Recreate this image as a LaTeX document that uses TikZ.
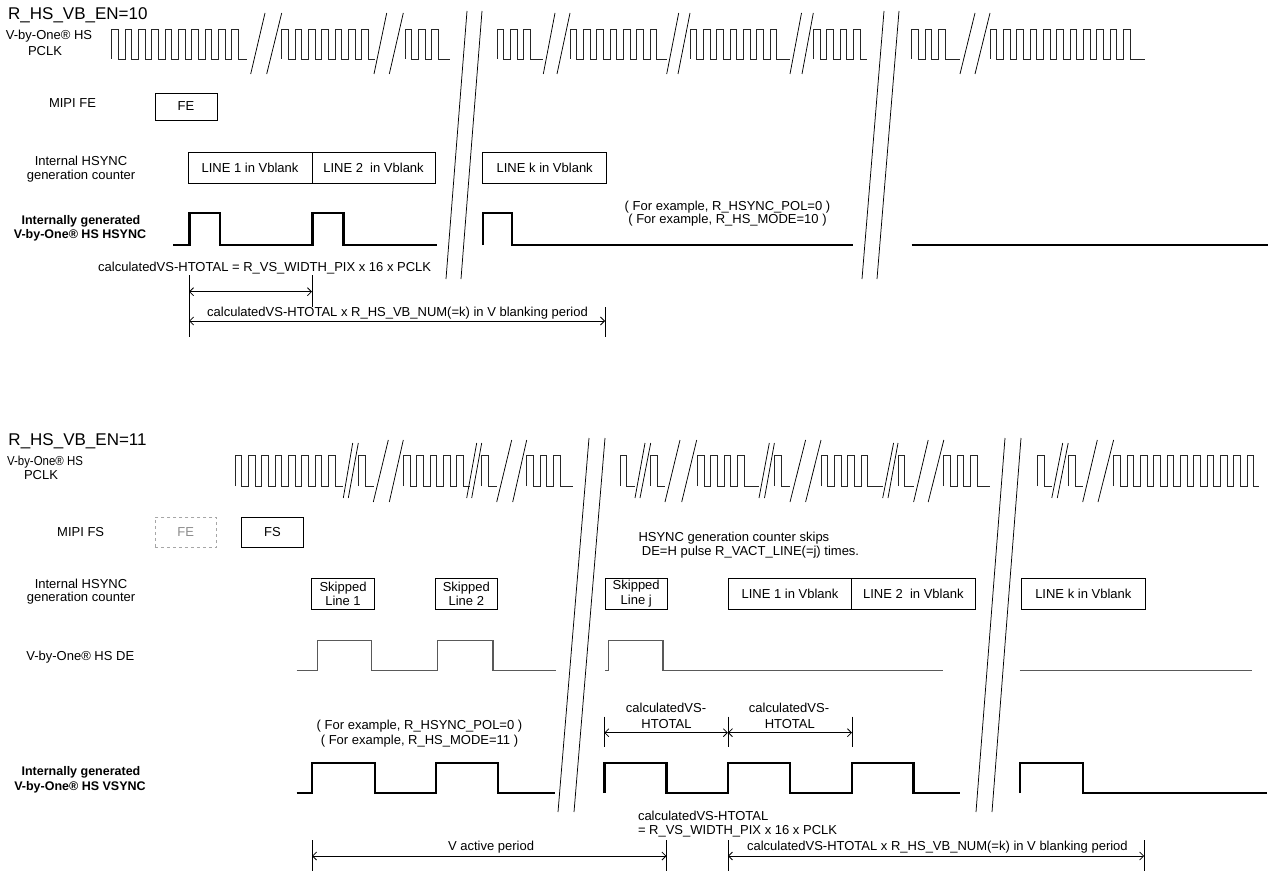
\documentclass[tikz,border=0pt]{standalone}
\usepackage{fontspec}
\setmainfont{Liberation Sans}
\newfontfamily\narrowfam[FakeStretch=0.88]{Liberation Sans}
\usetikzlibrary{arrows.meta}
\newcommand{\lblfont}{\fontsize{13}{14.5}\selectfont}
\newcommand{\boldfont}{\fontsize{12.5}{14}\selectfont\bfseries}
\newcommand{\titlefont}{\fontsize{17}{19}\selectfont}
\def\hp{6.667}
\newcommand{\clkgrp}[5]{\draw[clk] (#1,#4) -- (#1,#5) -- ++(\hp,0) -- ++(0,{#4-#5}) \foreach \k in {2,...,#2}{ -- ++(\hp,0) -- ++(0,{#5-#4}) -- ++(\hp,0) -- ++(0,{#4-#5})} -- (#3,#4);}
\newcommand{\onepulse}[4]{\draw[clk] (#1,#3) -- (#1,#4) -- ++(\hp,0) -- ++(0,{#3-#4}) -- (#2,#3);}
\newcommand{\brkln}[4]{\draw[brk] (#1,#2) -- (#3,#4);}
\begin{document}
\begin{tikzpicture}[x=1pt,y=-1pt,
  clk/.style={line width=0.75pt, black!85, line join=miter},
  brk/.style={line width=0.75pt, black},
  sig/.style={line width=2.4pt, black, line join=miter},
  desig/.style={line width=1.3pt, black!65, line join=miter},
  box/.style={draw, line width=0.8pt, inner sep=0pt, font=\lblfont, align=center},
  lbl/.style={font=\lblfont, inner sep=0pt, anchor=base},
  blbl/.style={font=\boldfont, inner sep=0pt, anchor=base},
  dim/.style={line width=0.8pt, {Straight Barb[length=4pt,width=8pt]}-{Straight Barb[length=4pt,width=8pt]}},
  tick/.style={line width=0.8pt}]
\useasboundingbox (0,0) rectangle (1274,872);

% ================= TOP: R_HS_VB_EN=10 =================
\node[font=\titlefont, inner sep=0pt, anchor=base west] (title1) at (8,20) {R\_HS\_VB\_EN=10};
\node[lbl] (pclk1a) at (49,40) {V-by-One® HS};
\node[lbl] (pclk1b) at (45,56) {PCLK};

% clock groups
\clkgrp{111.7}{10}{246.7}{59}{29}
\clkgrp{281.7}{7}{375}{59}{29}
\clkgrp{405}{3}{450}{59}{29}
\clkgrp{497}{3}{543}{59}{29}
\clkgrp{570}{7}{666.7}{59}{29}
\clkgrp{690}{7}{790}{59}{29}
\clkgrp{813.3}{4}{866.7}{59}{29}
\clkgrp{911.7}{3}{960}{59}{29}
\clkgrp{990}{11}{1145}{59}{29}
% small breaks
\brkln{250.7}{74}{265}{13} \brkln{266.7}{74}{281.7}{13}
\brkln{374}{74}{386.7}{13} \brkln{389.3}{74}{403.3}{13}
\brkln{543.3}{74}{555}{13} \brkln{557}{74}{570}{13}
\brkln{666.7}{74}{678.7}{13} \brkln{678}{74}{690}{13}
\brkln{790}{74}{801.5}{13} \brkln{802}{74}{813.3}{13}
\brkln{960}{74}{975}{13} \brkln{975}{74}{990}{13}
% big breaks
\brkln{467}{11}{446}{279} \brkln{482}{11}{461}{279}
\brkln{884}{11}{862}{279} \brkln{899}{11}{877}{279}

\node[lbl] (mipi1) at (72.5,107.7) {MIPI FE};
\node[box, minimum width=62, minimum height=27] (fe1) at (186,106.5) {FE};

\node[lbl] (ih1a) at (81,165.7) {Internal HSYNC};
\node[lbl] (ih1b) at (81,179) {generation counter};
\node[box, minimum width=124, minimum height=31] (l1t) at (250,167.5) {LINE 1 in Vblank};
\node[box, minimum width=123, minimum height=31] (l2t) at (373.5,167.5) {LINE 2~ in Vblank};
\node[box, minimum width=124, minimum height=31] (lkt) at (544.7,167.5) {LINE k in Vblank};

\node[blbl] (ig1a) at (81,224) {Internally generated};
\node[blbl] (ig1b) at (80,238.3) {V-by-One® HS HSYNC};
\node[lbl] (ex1a) at (727.5,210.3) {( For example, R\_HSYNC\_POL=0 )};
\node[lbl] (ex1b) at (727.5,223.3) {( For example, R\_HS\_MODE=10 )};

\draw[sig] (173,245) -- (189.3,245) -- (189.3,213) -- (220,213) -- (220,245) -- (312.3,245) -- (312.3,213) -- (343.3,213) -- (343.3,245) -- (436.7,245);
\draw[sig] (482.7,245) -- (482.7,213) -- (511.7,213) -- (511.7,245) -- (853.3,245);
\draw[sig] (911.7,245) -- (1268.3,245);

\node[lbl, anchor=base west] (calc1) at (98,271.7) {calculatedVS-HTOTAL = R\_VS\_WIDTH\_PIX x 16 x PCLK};
\coordinate (ta1) at (189,275); \coordinate (tb1) at (189,337);
\coordinate (ta2) at (312,275); \coordinate (tb2) at (312,307);
\coordinate (ta3) at (605,307); \coordinate (tb3) at (605,337);
\draw[tick] (ta1) -- (tb1); \draw[tick] (ta2) -- (tb2); \draw[tick] (ta3) -- (tb3);
\coordinate (a1s) at (189,291.7); \coordinate (a1e) at (312,291.7);
\coordinate (a2s) at (189,321); \coordinate (a2e) at (605,321);
\draw[dim] (a1s) -- (a1e);
\draw[dim] (a2s) -- (a2e);
\node[lbl] (blank1) at (397.5,316.7) {calculatedVS-HTOTAL x R\_HS\_VB\_NUM(=k) in V blanking period};

% ================= BOTTOM: R_HS_VB_EN=11 =================
\node[font=\titlefont, inner sep=0pt, anchor=base west] (title2) at (8.3,445) {R\_HS\_VB\_EN=11};
\node[lbl, font=\lblfont\narrowfam] (pclk2a) at (45,465) {V-by-One® HS};
\node[lbl] (pclk2b) at (41,479.3) {PCLK};

\clkgrp{235}{8}{343.3}{486}{455}
\brkln{343.3}{498}{352.7}{443} \brkln{348.3}{498}{358.3}{443}
\onepulse{358.3}{374}{486}{455}
\brkln{373.3}{502}{388.3}{440} \brkln{389.3}{502}{403.3}{440}
\clkgrp{403.3}{5}{470}{486}{455}
\brkln{466.7}{498}{476.7}{443} \brkln{471.7}{498}{481.7}{443}
\onepulse{481.7}{496.7}{486}{455}
\brkln{496.7}{502}{511.7}{440} \brkln{512.7}{502}{526.7}{440}
\clkgrp{526.7}{3}{573.3}{486}{455}
\onepulse{620}{635}{486}{455}
\brkln{635}{498}{645}{443} \brkln{640}{498}{650.7}{443}
\onepulse{650.7}{665}{486}{455}
\brkln{665}{502}{680}{440} \brkln{681.7}{502}{696.7}{440}
\clkgrp{697.3}{4}{759}{486}{455}
\brkln{759}{498}{769.3}{443} \brkln{764.5}{498}{774.4}{443}
\onepulse{774.4}{790}{486}{455}
\brkln{790}{502}{805.6}{440} \brkln{805.6}{502}{821}{440}
\clkgrp{821}{4}{882.7}{486}{455}
\brkln{882.7}{498}{893.6}{443} \brkln{888}{498}{898}{443}
\onepulse{898}{913.6}{486}{455}
\brkln{913.6}{502}{928.2}{440} \brkln{928.2}{502}{943.8}{440}
\clkgrp{943.8}{3}{990}{486}{455}
\onepulse{1037.3}{1051.8}{486}{455}
\brkln{1051.8}{498}{1062.7}{443} \brkln{1057.3}{498}{1068.2}{443}
\onepulse{1068.2}{1082.7}{486}{455}
\brkln{1082.7}{502}{1097.3}{440} \brkln{1098}{502}{1113.6}{440}
\clkgrp{1113.6}{11}{1259}{486}{455}
% big breaks
\brkln{589}{438}{558}{812} \brkln{605}{438}{574}{812}
\brkln{1005}{438}{976}{812} \brkln{1021}{438}{992}{812}

\node[lbl] (mipi2) at (80.7,536.7) {MIPI FS};
\node[box, draw=black!35, dashed, text=black!45, minimum width=61.7, minimum height=30] (fe2) at (185.8,532.3) {FE};
\node[box, minimum width=61.7, minimum height=30] (fs2) at (272.5,532.3) {FS};

\node[lbl, anchor=base west] (skip1) at (638.3,541.7) {HSYNC generation counter skips};
\node[lbl, anchor=base west] (skip2) at (641.7,555) {DE=H pulse R\_VACT\_LINE(=j) times.};

\node[lbl] (ih2a) at (81,588.3) {Internal HSYNC};
\node[lbl] (ih2b) at (81,601.7) {generation counter};
\node[box, minimum width=62.6, minimum height=30.7] (sk1) at (343,593.7) {Skipped\\Line 1};
\node[box, minimum width=62.7, minimum height=30.7] (sk2) at (466.3,593.7) {Skipped\\Line 2};
\node[box, minimum width=62.3, minimum height=30.7] (skj) at (636.2,593.7) {Skipped\\Line j};
\node[box, minimum width=123.4, minimum height=30.7] (l1b) at (790,593.7) {LINE 1 in Vblank};
\node[box, minimum width=123.3, minimum height=30.7] (l2b) at (913.3,593.7) {LINE 2~ in Vblank};
\node[box, minimum width=123.3, minimum height=30.7] (lkb) at (1083.3,593.7) {LINE k in Vblank};

\node[lbl] (de2) at (80.3,660) {V-by-One® HS DE};
\draw[desig] (296.7,670.7) -- (317.4,670.7) -- (317.4,640.7) -- (371.4,640.7) -- (371.4,670.7) -- (437.8,670.7) -- (437.8,640.7) -- (493,640.7) -- (493,670.7) -- (556,670.7);
\draw[desig] (605,670.7) -- (608.6,670.7) -- (608.6,640.7) -- (663,640.7) -- (663,670.7) -- (943,670.7);
\draw[desig] (1019.7,670.7) -- (1251.5,670.7);

\node[lbl] (ex2a) at (419.5,729) {( For example, R\_HSYNC\_POL=0 )};
\node[lbl] (ex2b) at (419.5,744) {( For example, R\_HS\_MODE=11 )};

\node[lbl] (cv1a) at (666,712.3) {calculatedVS-};
\node[lbl] (cv1b) at (666.5,728.3) {HTOTAL};
\node[lbl] (cv2a) at (789,712.3) {calculatedVS-};
\node[lbl] (cv2b) at (789.8,728.3) {HTOTAL};
\coordinate (tc1a) at (604.3,716.7); \coordinate (tc1b) at (604.3,746.7);
\coordinate (tc2a) at (727.9,716.7); \coordinate (tc2b) at (727.9,746.7);
\coordinate (tc3a) at (852,716.7); \coordinate (tc3b) at (852,746.7);
\draw[tick] (tc1a) -- (tc1b); \draw[tick] (tc2a) -- (tc2b); \draw[tick] (tc3a) -- (tc3b);
\coordinate (h1) at (604.3,732.7); \coordinate (h2) at (727.9,732.7); \coordinate (h3) at (852,732.7);
\draw[dim] (h1) -- (h2);
\draw[dim] (h2) -- (h3);

\node[blbl] (ig2a) at (81,775) {Internally generated};
\node[blbl] (ig2b) at (80,790) {V-by-One® HS VSYNC};
\draw[sig] (296.7,793) -- (312,793) -- (312,763) -- (374.7,763) -- (374.7,793) -- (435.7,793) -- (435.7,763) -- (498,763) -- (498,793) -- (555,793);
\draw[sig] (604.3,793) -- (604.3,763) -- (666.5,763) -- (666.5,793) -- (727.9,793) -- (727.9,763) -- (789.7,763) -- (789.7,793) -- (852,793) -- (852,763) -- (913.3,763) -- (913.3,793) -- (959.7,793);
\draw[sig] (1019.7,793) -- (1019.7,763) -- (1082.8,763) -- (1082.8,793) -- (1267.4,793);

\node[lbl, anchor=base west] (calc2a) at (637.8,820) {calculatedVS-HTOTAL};
\node[lbl, anchor=base west] (calc2b) at (637.8,834.3) {= R\_VS\_WIDTH\_PIX x 16 x PCLK};

\coordinate (va1) at (312,840); \coordinate (vb1) at (312,870.7);
\coordinate (va2) at (666.5,840); \coordinate (vb2) at (666.5,870.7);
\coordinate (va3) at (727.9,840); \coordinate (vb3) at (727.9,870.7);
\coordinate (va4) at (1144.2,840); \coordinate (vb4) at (1144.2,870.7);
\draw[tick] (va1) -- (vb1); \draw[tick] (va2) -- (vb2); \draw[tick] (va3) -- (vb3); \draw[tick] (va4) -- (vb4);
\coordinate (vs) at (312,856); \coordinate (ve) at (666.5,856);
\coordinate (bs) at (727.9,856); \coordinate (be) at (1144.2,856);
\draw[dim] (vs) -- (ve);
\draw[dim] (bs) -- (be);
\node[lbl] (vact) at (491,850.7) {V active period};
\node[lbl] (vblank2) at (937.4,850.7) {calculatedVS-HTOTAL x R\_HS\_VB\_NUM(=k) in V blanking period};
\end{tikzpicture}
\end{document}
